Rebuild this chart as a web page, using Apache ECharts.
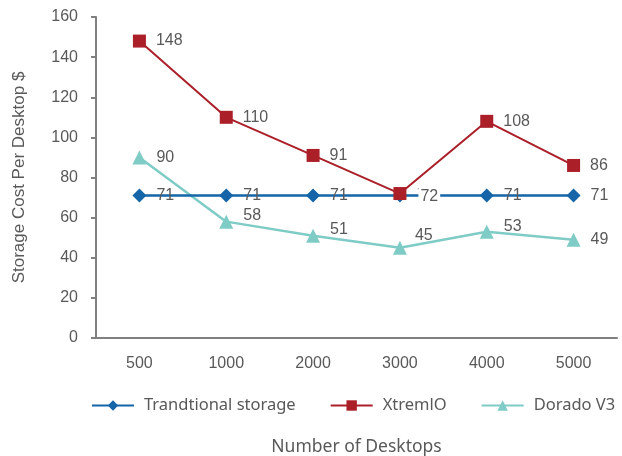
<!DOCTYPE html>
<html><head><meta charset="utf-8">
<script src="https://cdn.jsdelivr.net/npm/echarts@6/dist/echarts.min.js"></script>
<style>html,body{margin:0;padding:0;background:#fff}#c{width:622px;height:456px}</style>
</head><body><div id="c"></div>
<script>
var categories = ['500','1000','2000','3000','4000','5000'];
var traditional = [71,71,71,71,71,71];
var xtremio = [148,110,91,72,108,86];
var dorado = [90,58,51,45,53,49];
var seriesNames = ['Trandtional storage','XtremlO','Dorado V3'];

var doradoOffsets = [[0,0],[0,-6],[0,-6],[-2,-12],[0,-5],[0,0]];
var xtremioOffsets = [[0,0],[0,0],[0,0],[2,3],[0,0],[0,0]];

var labelStyle = {show:true, position:'right', distance:10, color:'#595959', fontSize:16, fontFamily:'Liberation Sans, Arial, sans-serif'};

var chart = echarts.init(document.getElementById('c'));
chart.setOption({
  animation:false,
  grid:{left:96, right:5, top:17, bottom:118, outerBoundsMode:'none', containLabel:false},
  legend:{
    bottom:37, left:86,
    itemWidth:42, itemHeight:13, itemGap:34,
    textStyle:{color:'#595959', fontSize:16.5, fontFamily:'Noto Sans, sans-serif', padding:[0,0,0,5]},
    data:seriesNames
  },
  xAxis:{
    type:'category', data:categories, boundaryGap:true,
    name:'Number of Desktops', nameLocation:'middle', nameGap:100,
    nameTextStyle:{color:'#595959', fontSize:17.5, fontFamily:'Noto Sans, sans-serif'},
    axisLine:{lineStyle:{color:'#808080', width:2}},
    axisTick:{show:false},
    axisLabel:{color:'#595959', fontSize:16, margin:18, fontFamily:'Liberation Sans, Arial, sans-serif'}
  },
  yAxis:{
    type:'value', min:0, max:160, interval:20,
    name:'Storage Cost Per Desktop $', nameLocation:'middle', nameGap:68,
    nameTextStyle:{color:'#595959', fontSize:17, fontFamily:'Liberation Sans, Arial, sans-serif'},
    axisLine:{show:true, lineStyle:{color:'#808080', width:2}},
    axisTick:{show:true, length:5, lineStyle:{color:'#808080', width:2}},
    splitLine:{show:false},
    axisLabel:{color:'#595959', fontSize:16, margin:18, fontFamily:'Liberation Sans, Arial, sans-serif'}
  },
  series:[
    {name:seriesNames[0], type:'line', data:traditional, symbol:'diamond', symbolSize:14,
     itemStyle:{color:'#1565a8'}, lineStyle:{width:2.5, color:'#1565a8'}, label:labelStyle, z:3},
    {name:seriesNames[1], type:'line', symbol:'rect', symbolSize:13,
     data:xtremio.map(function(v,i){return {value:v, label:{offset:xtremioOffsets[i], backgroundColor:(i===3?'#ffffff':'transparent'), padding:(i===3?[1,2]:0)}};}),
     itemStyle:{color:'#ab1f29'}, lineStyle:{width:2, color:'#ab1f29'}, label:labelStyle, z:4},
    {name:seriesNames[2], type:'line', symbol:'triangle', symbolSize:14,
     data:dorado.map(function(v,i){return {value:v, label:{offset:doradoOffsets[i]}};}),
     itemStyle:{color:'#7fccc6'}, lineStyle:{width:2.5, color:'#7fccc6'}, label:labelStyle, z:2}
  ]
});
</script></body></html>
